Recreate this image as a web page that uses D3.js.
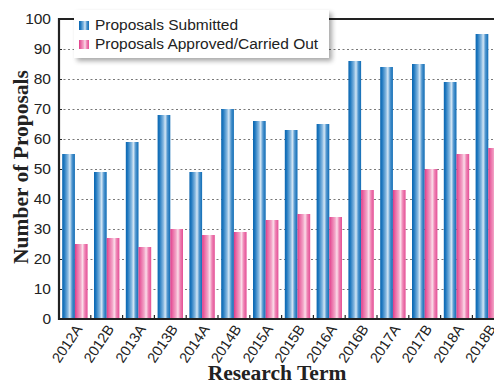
<!DOCTYPE html>
<html><head><meta charset="utf-8">
<script src="https://cdn.jsdelivr.net/npm/d3@7"></script>
<style>body{margin:0;background:#fff}svg{display:block}</style>
</head><body>
<svg id="c" width="494" height="383"></svg>
<script>
const categories = ["2012A","2012B","2013A","2013B","2014A","2014B","2015A","2015B","2016A","2016B","2017A","2017B","2018A","2018B"];
const submitted = [55,49,59,68,49,70,66,63,65,86,84,85,79,95];
const approved  = [25,27,24,30,28,29,33,35,34,43,43,50,55,57];
const seriesNames = ["Proposals Submitted","Proposals Approved/Carried Out"];
const yTicks = [0,10,20,30,40,50,60,70,80,90,100];

const svg = d3.select("#c");
const m = {l:59, t:19, b:319};
const plotRight = 59 + 14*31.8;
const x = d3.scaleBand().domain(categories).range([m.l, plotRight]).paddingInner(0).paddingOuter(0);
const x1 = d3.scaleBand().domain([0,1]).range([3.2, x.bandwidth()-3.2]).padding(0);
const y = d3.scaleLinear().domain([0,100]).range([m.b, m.t]);

const defs = svg.append("defs");
function grad(id, stops){
  const g = defs.append("linearGradient").attr("id",id).attr("x1","0").attr("x2","1").attr("y1","0").attr("y2","0");
  stops.forEach(s=>g.append("stop").attr("offset",s[0]).attr("stop-color",s[1]));
}
grad("gb",[[0,"#0a66b0"],[0.15,"#1f78bf"],[0.45,"#86b8e0"],[0.6,"#d3e6f5"],[0.78,"#4f95ce"],[1,"#0f6cb5"]]);
grad("gp",[[0,"#e03a88"],[0.15,"#e862a0"],[0.45,"#f3a6c8"],[0.6,"#fbdde9"],[0.78,"#ee82b3"],[1,"#e44f96"]]);
const f = defs.append("filter").attr("id","sh").attr("x","-10%").attr("y","-20%").attr("width","130%").attr("height","160%");
f.append("feGaussianBlur").attr("in","SourceAlpha").attr("stdDeviation","2.5");
f.append("feOffset").attr("dx","3").attr("dy","3").attr("result","o");
f.append("feComponentTransfer").append("feFuncA").attr("type","linear").attr("slope","0.35");
const fm = f.append("feMerge"); fm.append("feMergeNode"); fm.append("feMergeNode").attr("in","SourceGraphic");

// gridlines
svg.append("g").selectAll("line").data(yTicks.filter(d=>d>0&&d<100)).join("line")
  .attr("x1",m.l).attr("x2",494).attr("y1",d=>y(d)+0.5).attr("y2",d=>y(d)+0.5)
  .attr("stroke","#555").attr("stroke-width",0.8).attr("stroke-dasharray","2,2.5");

// bars
const data = [submitted, approved];
const grads = ["url(#gb)","url(#gp)"];
data.forEach((vals,si)=>{
  svg.append("g").selectAll("rect").data(categories).join("rect")
    .attr("x",(c)=>x(c)+x1(si)).attr("width",x1.bandwidth())
    .attr("y",(c,i)=>y(vals[i])).attr("height",(c,i)=>y(0)-y(vals[i]))
    .attr("fill",grads[si]);
});

// y axis
const ya = svg.append("g").attr("transform",`translate(${m.l},0)`)
  .call(d3.axisLeft(y).tickValues(yTicks).tickSize(-3).tickPadding(8));
ya.select(".domain").remove();
ya.selectAll(".tick line").attr("stroke","#222").attr("stroke-width",1);
ya.selectAll("text").attr("font-family","Liberation Sans, Arial, sans-serif").attr("font-size",15.5).attr("fill","#222");

// x axis
const xa = svg.append("g").attr("transform",`translate(0,${m.b})`)
  .call(d3.axisBottom(x).tickSize(0).tickPadding(0));
xa.select(".domain").remove();
xa.selectAll(".tick text").attr("font-family","Liberation Sans, Arial, sans-serif").attr("font-size",14.5).attr("fill","#222")
  .attr("text-anchor","end").attr("dy",0)
  .attr("transform","translate(8,10) rotate(-56)");
// category boundary ticks
svg.append("g").selectAll("line").data(categories.slice(1)).join("line")
  .attr("x1",c=>x(c)).attr("x2",c=>x(c)).attr("y1",m.b).attr("y2",m.b-4)
  .attr("stroke","#222").attr("stroke-width",1.2);

// frame lines
svg.append("line").attr("x1",m.l).attr("x2",m.l).attr("y1",m.t-1).attr("y2",m.b+1).attr("stroke","#222").attr("stroke-width",2.2);
svg.append("line").attr("x1",m.l-1).attr("x2",494).attr("y1",m.b).attr("y2",m.b).attr("stroke","#222").attr("stroke-width",2.2);
svg.append("line").attr("x1",m.l-1).attr("x2",494).attr("y1",m.t).attr("y2",m.t).attr("stroke","#222").attr("stroke-width",2.2);

// legend
const lg = svg.append("g");
lg.append("rect").attr("x",74).attr("y",10).attr("width",255).attr("height",48).attr("fill","#fff").attr("filter","url(#sh)");
seriesNames.forEach((n,i)=>{
  lg.append("rect").attr("x",79).attr("y",21+i*19).attr("width",10).attr("height",9).attr("fill",grads[i]);
  lg.append("text").attr("x",95).attr("y",30+i*19).text(n)
    .attr("font-family","Liberation Sans, Arial, sans-serif").attr("font-size",15.5).attr("fill","#222");
});

// axis titles
svg.append("text").attr("transform","translate(28,167) rotate(-90)").attr("text-anchor","middle")
  .attr("font-family","Liberation Serif, Times New Roman, serif").attr("font-weight","bold").attr("font-size",21.5).attr("fill","#222")
  .text("Number of Proposals");
svg.append("text").attr("x",277).attr("y",380).attr("text-anchor","middle")
  .attr("font-family","Liberation Serif, Times New Roman, serif").attr("font-weight","bold").attr("font-size",21.5).attr("fill","#222")
  .text("Research Term");
</script>
</body></html>
